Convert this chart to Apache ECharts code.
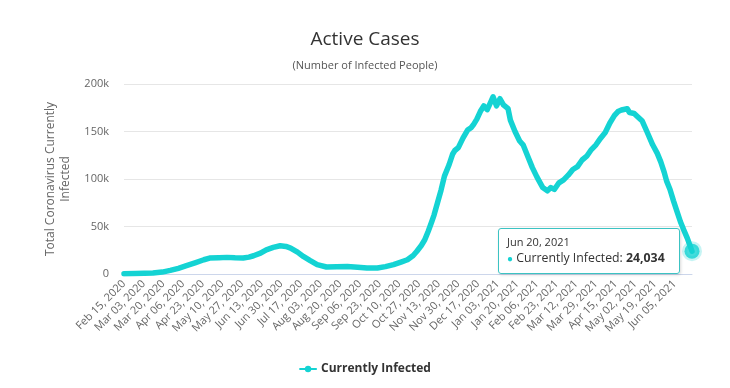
<!DOCTYPE html>
<html>
<head>
<meta charset="utf-8">
<script src="https://cdn.jsdelivr.net/npm/echarts@6/dist/echarts.min.js"></script>
<style>
html,body{margin:0;padding:0;background:#fff;}
#chart{width:730px;height:388px;}
</style>
</head>
<body>
<div id="chart"></div>
<script>
// Day index counted from Feb 15, 2020
const dayIndex = [0,10,25,33,40,47,54,62,69,74,82,89,96,103,108,112,118,123,129,135,140,144,150,155,161,167,175,184,193,202,210,219,226,233,240,245,250,253,257,260,263,266,268,271,274,277,281,284,286,289,293,297,300,302,305,308,311,314,317,319,322,325,328,332,334,338,342,345,349,353,357,362,366,369,372,376,380,384,388,392,396,400,404,408,412,416,420,424,427,430,435,437,441,444,448,452,457,461,464,467,469,472,475,478,481,484,487,491];
const activeCases = [300,500,1000,2000,3800,6000,8700,12000,15000,16800,17200,17500,17000,16800,17800,19200,22000,25500,28000,29700,29000,27300,23000,18500,14000,9800,7400,7600,8000,7200,6300,6300,7800,9800,12800,15000,19500,23700,30000,36000,45000,55000,62000,75000,88000,103000,115000,126000,130000,133000,143000,151500,154000,157000,163000,171000,177000,173000,181000,186500,177000,184500,178000,174000,162000,150000,140000,136000,124000,112000,102000,91000,87500,91000,89000,96000,99000,104000,110000,113000,120000,124000,131000,136000,143000,149000,159000,167000,171000,172600,174000,170000,169000,165500,161000,150000,136000,127000,118000,107000,98000,89000,77000,66000,55000,46000,37500,24034];
const tickLabels = ['Feb 15, 2020','Mar 03, 2020','Mar 20, 2020','Apr 06, 2020','Apr 23, 2020','May 10, 2020','May 27, 2020','Jun 13, 2020','Jun 30, 2020','Jul 17, 2020','Aug 03, 2020','Aug 20, 2020','Sep 06, 2020','Sep 23, 2020','Oct 10, 2020','Oct 27, 2020','Nov 13, 2020','Nov 30, 2020','Dec 17, 2020','Jan 03, 2021','Jan 20, 2021','Feb 06, 2021','Feb 23, 2021','Mar 12, 2021','Mar 29, 2021','Apr 15, 2021','May 02, 2021','May 19, 2021','Jun 05, 2021'];
const yTicks = [0,50000,100000,150000,200000];
const seriesName = 'Currently Infected';
const monthNames = ['Jan','Feb','Mar','Apr','May','Jun','Jul','Aug','Sep','Oct','Nov','Dec'];

function dayToDate(d){
  const t = new Date(Date.UTC(2020,1,15) + d*86400000);
  const dd = String(t.getUTCDate()).padStart(2,'0');
  return monthNames[t.getUTCMonth()] + ' ' + dd + ', ' + t.getUTCFullYear();
}

const lineData = dayIndex.map((d,i)=>[d, activeCases[i]]);
const lastIdx = dayIndex.length-1;
const lastPoint = [dayIndex[lastIdx], activeCases[lastIdx]];
const color = '#14d3d3';
const font = "'Open Sans', sans-serif";

const chart = echarts.init(document.getElementById('chart'), null, {renderer:'canvas'});
chart.setOption({
  animation:false,
  backgroundColor:'#fff',
  textStyle:{fontFamily:font},
  title:[
    {text:'Active Cases', left:'center', top:25, textStyle:{fontFamily:font, fontSize:19, fontWeight:'normal', color:'#333'}},
    {text:'(Number of Infected People)', left:'center', top:55, textStyle:{fontFamily:font, fontSize:11, fontWeight:'normal', color:'#555'}}
  ],
  grid:{left:124, right:38, top:84, bottom:114},
  legend:{
    data:[seriesName], left:'center', top:358, itemWidth:16, itemHeight:8,
    textStyle:{fontFamily:font, fontSize:12, fontWeight:'bold', color:'#333'}
  },
  tooltip:{
    trigger:'item', triggerOn:'none', alwaysShowContent:true,
    backgroundColor:'rgba(255,255,255,0.96)', borderColor:'#3cc3c3', borderWidth:1, borderRadius:3,
    padding:[6,14,6,8],
    extraCssText:'box-shadow:1px 1px 3px rgba(0,0,0,0.15);',
    position:function(p){ return [p[0]-194, p[1]-23]; },
    formatter:function(params){
      const v = params.value;
      return '<div style="font-family:Open Sans,sans-serif;font-size:11px;color:#333;line-height:14px;">'+dayToDate(v[0])+'</div>'+
        '<div style="font-family:Open Sans,sans-serif;font-size:12.3px;color:#333;line-height:17px;">'+
        '<span style="color:'+color+';font-size:10px;">\u25CF</span> '+seriesName+': <b>'+v[1].toLocaleString('en-US')+'</b></div>';
    }
  },
  xAxis:{
    type:'value', min:0, max:dayIndex[lastIdx], interval:17,
    axisLine:{show:true, lineStyle:{color:'#ccd6eb'}},
    axisTick:{show:false},
    splitLine:{show:false},
    axisLabel:{
      rotate:45, color:'#666', fontSize:11, fontFamily:font, margin:8, showMaxLabel:false,
      formatter:function(v){ return v % 17 === 0 && tickLabels[v/17] ? tickLabels[v/17] : ''; }
    }
  },
  yAxis:{
    type:'value', min:yTicks[0], max:yTicks[yTicks.length-1], interval:yTicks[1]-yTicks[0],
    name:'Total Coronavirus Currently\nInfected', nameLocation:'middle', nameGap:50,
    nameTextStyle:{color:'#666', fontSize:12, fontFamily:font, lineHeight:15},
    axisLine:{show:false}, axisTick:{show:false},
    splitLine:{lineStyle:{color:'#e6e6e6'}},
    axisLabel:{color:'#666', fontSize:11, fontFamily:font, margin:15,
      formatter:function(v){ return v===0 ? '0' : (v/1000)+'k'; }}
  },
  series:[
    {
      name:seriesName, type:'line', data:lineData, showSymbol:false, symbol:'circle', symbolSize:8,
      lineStyle:{width:5.5, color:color, join:'round', cap:'round'}, itemStyle:{color:color},
      smooth:false
    },
    {
      name:'last', type:'scatter', data:[lastPoint], symbol:'circle', symbolSize:15,
      itemStyle:{color:color, borderColor:'rgba(20,211,211,0.3)', borderWidth:5},
      z:5
    }
  ]
});
chart.dispatchAction({type:'showTip', seriesIndex:1, dataIndex:0});
</script>
</body>
</html>
